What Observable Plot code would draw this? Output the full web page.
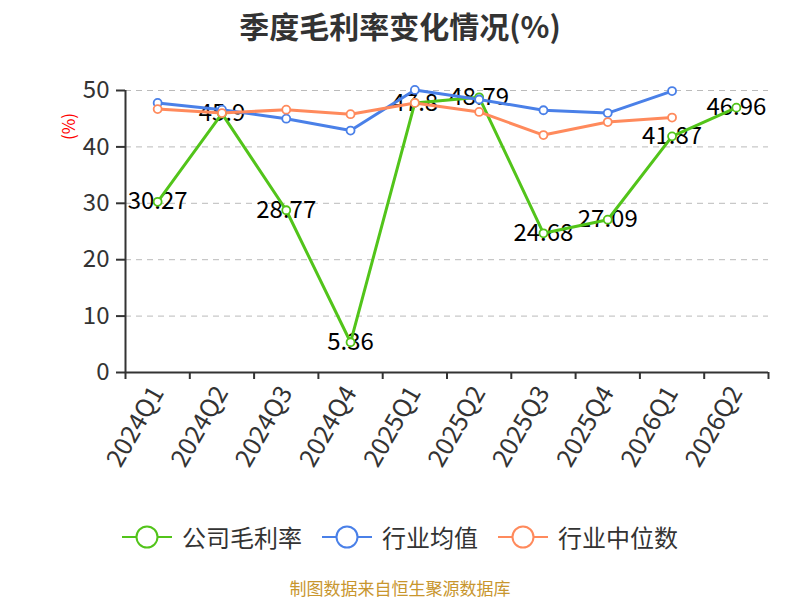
<!DOCTYPE html>
<html><head><meta charset="utf-8">
<script src="https://cdn.jsdelivr.net/npm/d3@7"></script>
<script src="https://cdn.jsdelivr.net/npm/@observablehq/plot@0.6"></script>
<style>
body{margin:0;background:#fff;font-family:"Noto Sans CJK SC","Noto Sans",sans-serif;}
#wrap{position:relative;width:800px;height:600px;overflow:hidden;}
#title{position:absolute;left:0;width:800px;top:25px;transform:translateY(-50%);line-height:1;text-align:center;font-size:30px;font-weight:bold;color:#333;}
#legend{position:absolute;left:0;width:800px;top:537px;transform:translateY(-50%);display:flex;justify-content:center;gap:20px;font-size:24px;line-height:1;color:#333;}
#legend .item{display:flex;align-items:center;gap:10px;}
#caption{position:absolute;left:0;width:800px;top:588px;transform:translateY(-50%);line-height:1.1;text-align:center;font-size:17px;color:#c8962e;}
#chart{position:absolute;left:0;top:0;}
</style></head>
<body><div id="wrap"><div id="chart"></div><div id="title">季度毛利率变化情况(%)</div><div id="legend"></div><div id="caption">制图数据来自恒生聚源数据库</div></div>
<script>
const quarters = ["2024Q1","2024Q2","2024Q3","2024Q4","2025Q1","2025Q2","2025Q3","2025Q4","2026Q1","2026Q2"];
const companyMargin = [30.27,45.9,28.77,5.36,47.8,48.79,24.68,27.09,41.87,46.96];
const industryMean = [47.8,46.6,45.0,42.9,50.1,48.4,46.5,46.0,49.9,null];
const industryMedian = [46.7,46.0,46.6,45.8,47.8,46.2,42.1,44.4,45.2,null];
const seriesNames = ["公司毛利率","行业均值","行业中位数"];
const colors = ["#52c41a","#4a80e8","#ff8a5c"];
const yTicks = [0,10,20,30,40,50];

const rows = [];
[companyMargin, industryMean, industryMedian].forEach((arr, s) => {
  arr.forEach((v, i) => { if (v != null) rows.push({s: seriesNames[s], i: i + 0.5, q: quarters[i], v}); });
});
const comp = rows.filter(d => d.s === seriesNames[0]);
const font = '"Noto Sans CJK SC","Noto Sans",sans-serif';

const plot = Plot.plot({
  width: 800, height: 480,
  marginLeft: 125, marginRight: 32, marginTop: 90, marginBottom: 108,
  style: {fontFamily: font, background: "transparent"},
  x: {type: "linear", domain: [0, 10]},
  y: {domain: [0, 50]},
  color: {domain: seriesNames, range: colors},
  marks: [
    Plot.gridY(yTicks.filter(t => t > 0), {stroke: "#bbb", strokeOpacity: 1, strokeDasharray: "6,5", strokeWidth: 1}),
    Plot.axisY({ticks: yTicks, tickSize: 9, tickPadding: 7, fontSize: 24, color: "#333", label: null, stroke: "#333", strokeWidth: 2}),
    Plot.ruleX([0], {y1: 0, y2: 50, stroke: "#333", strokeWidth: 2}),
    Plot.ruleY([0], {stroke: "#333", strokeWidth: 2}),
    Plot.axisX({ticks: d3.range(11), tickFormat: () => "", tickSize: 7, stroke: "#333", strokeWidth: 2, label: null}),
    Plot.axisX({ticks: d3.range(10).map(i => i + 0.5), tickFormat: t => quarters[Math.floor(t)], tickSize: 0, tickRotate: -60, tickPadding: 16, fontSize: 25, color: "#333", label: null}),
    Plot.text(["(%)"], {frameAnchor: "top-left", dx: -63, dy: 36, rotate: -90, fill: "red", fontSize: 17, textAnchor: "middle"}),
    Plot.text(comp, {x: "i", y: "v", text: d => String(d.v), fill: "#000", fontSize: 24}),
    Plot.line(rows, {x: "i", y: "v", z: "s", stroke: "s", strokeWidth: 3}),
    Plot.dot(rows, {x: "i", y: "v", stroke: "s", fill: "#fff", r: 4, strokeWidth: 1.8})
  ]
});
document.getElementById("chart").appendChild(plot);

const legend = document.getElementById("legend");
seriesNames.forEach((n, k) => {
  const it = document.createElement("div");
  it.className = "item";
  it.innerHTML = `<svg width="50" height="26" style="display:block"><line x1="0" y1="13" x2="50" y2="13" stroke="${colors[k]}" stroke-width="2"/><circle cx="25" cy="13" r="10.5" fill="#fff" stroke="${colors[k]}" stroke-width="2"/></svg><span>${n}</span>`;
  legend.appendChild(it);
});
</script></body></html>
